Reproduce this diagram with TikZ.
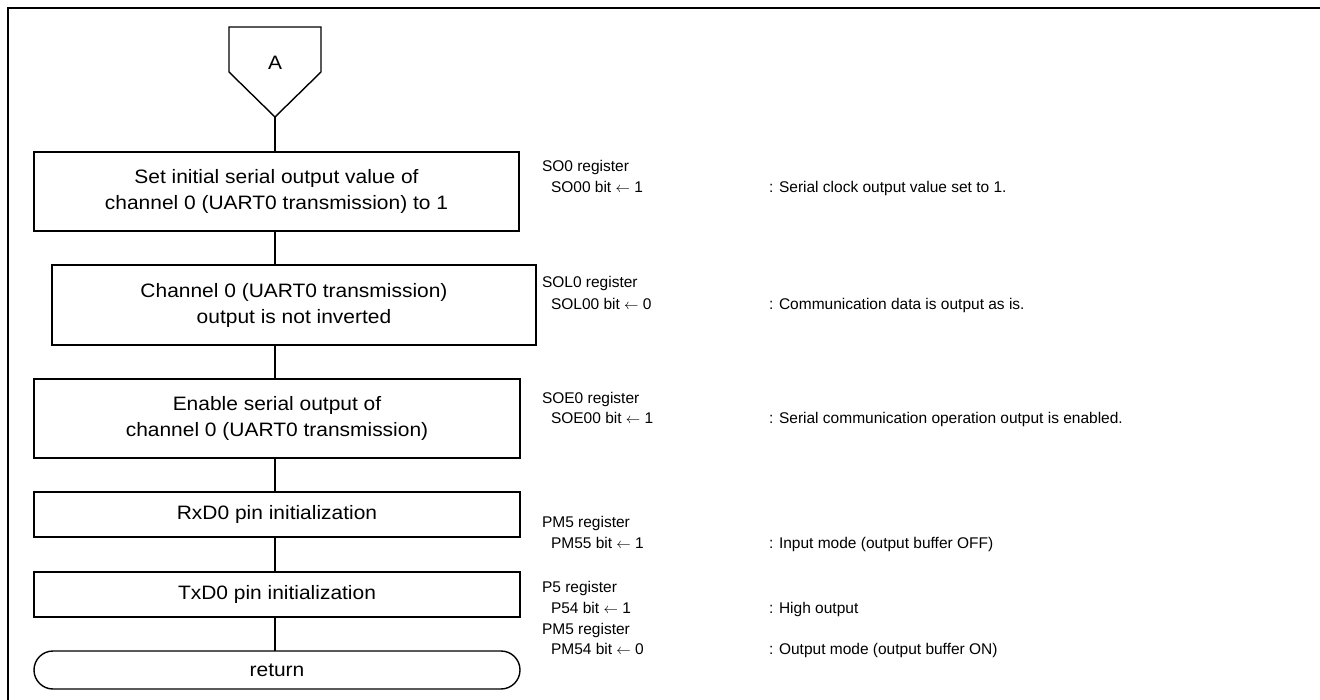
\documentclass[tikz,border=0pt]{standalone}
\usepackage{fontspec}
\setmainfont{Liberation Sans}
\newfontfamily\widefam[FakeStretch=1.08]{Liberation Sans}
\newcommand\boxfont{\widefam\fontsize{19.4}{26}\selectfont}
\newcommand\notefont{\fontsize{15.5}{21}\selectfont}
\newcommand\setto{\(\leftarrow\)}
\begin{document}
\begin{tikzpicture}[x=1pt,y=-1pt,
  every node/.style={inner sep=0pt, outer sep=0pt},
  procbox/.style={draw, line width=1.4pt, align=center, font=\boxfont},
  endbox/.style={draw, line width=1.4pt, rounded corners=19pt, align=center, font=\boxfont},
  conn/.style={line width=1.3pt},
  note/.style={anchor=base west, font=\notefont},
  frame/.style={line width=2.6pt}]
\useasboundingbox (0,0) rectangle (1320,700);
\fill[white] (0,0) rectangle (1320,700);

% page frame (top and left rules)
\draw[frame] (8,700) -- (8,8) -- (1320,8);

% off-page connector A
\coordinate (Atip) at (275,117);
\draw[line width=1.4pt, line join=miter] (229,27) -- (321,27) -- (321,72) -- (Atip) -- (229,72) -- cycle;
\node[font=\boxfont] (A) at (275,63) {A};

% process steps
\node[procbox, minimum width=485pt, minimum height=79pt] (b1) at (276.5,191.5)
  {Set initial serial output value of\\channel 0 (UART0 transmission) to 1};
\node[procbox, minimum width=484pt, minimum height=80pt] (b2) at (294,305)
  {Channel 0 (UART0 transmission)\\output is not inverted};
\node[procbox, minimum width=486pt, minimum height=79pt] (b3) at (277,418.5)
  {Enable serial output of\\channel 0 (UART0 transmission)};
\node[procbox, minimum width=486pt, minimum height=45pt] (b4) at (277,514.5)
  {RxD0 pin initialization};
\node[procbox, minimum width=486pt, minimum height=45pt] (b5) at (277,594.5)
  {TxD0 pin initialization};
\node[endbox, minimum width=486pt, minimum height=38pt] (ret) at (277,670)
  {return};

% flow lines
\draw[conn] (Atip) -- (Atip |- b1.north);
\draw[conn] (Atip |- b1.south) -- (Atip |- b2.north);
\draw[conn] (Atip |- b2.south) -- (Atip |- b3.north);
\draw[conn] (Atip |- b3.south) -- (Atip |- b4.north);
\draw[conn] (Atip |- b4.south) -- (Atip |- b5.north);
\draw[conn] (Atip |- b5.south) -- (Atip |- ret.north);

% register settings
\node[note] (r1) at (542,172) {SO0 register};
\node[note] (s1) at (551,193) {SO00 bit \setto{} 1};
\node[note] (d1) at (769,193) {: Serial clock output value set to 1.};

\node[note] (r2) at (542,288) {SOL0 register};
\node[note] (s2) at (551,310) {SOL00 bit \setto{} 0};
\node[note] (d2) at (769,310) {: Communication data is output as is.};

\node[note] (r3) at (542,403) {SOE0 register};
\node[note] (s3) at (551,424) {SOE00 bit \setto{} 1};
\node[note] (d3) at (769,424) {: Serial communication operation output is enabled.};

\node[note] (r4) at (542,527) {PM5 register};
\node[note] (s4) at (551,548) {PM55 bit \setto{} 1};
\node[note] (d4) at (769,548) {: Input mode (output buffer OFF)};

\node[note] (r5) at (542,592) {P5 register};
\node[note] (s5) at (551,613) {P54 bit \setto{} 1};
\node[note] (d5) at (769,613) {: High output};

\node[note] (r6) at (542,634) {PM5 register};
\node[note] (s6) at (551,654) {PM54 bit \setto{} 0};
\node[note] (d6) at (769,654) {: Output mode (output buffer ON)};
\end{tikzpicture}
\end{document}
